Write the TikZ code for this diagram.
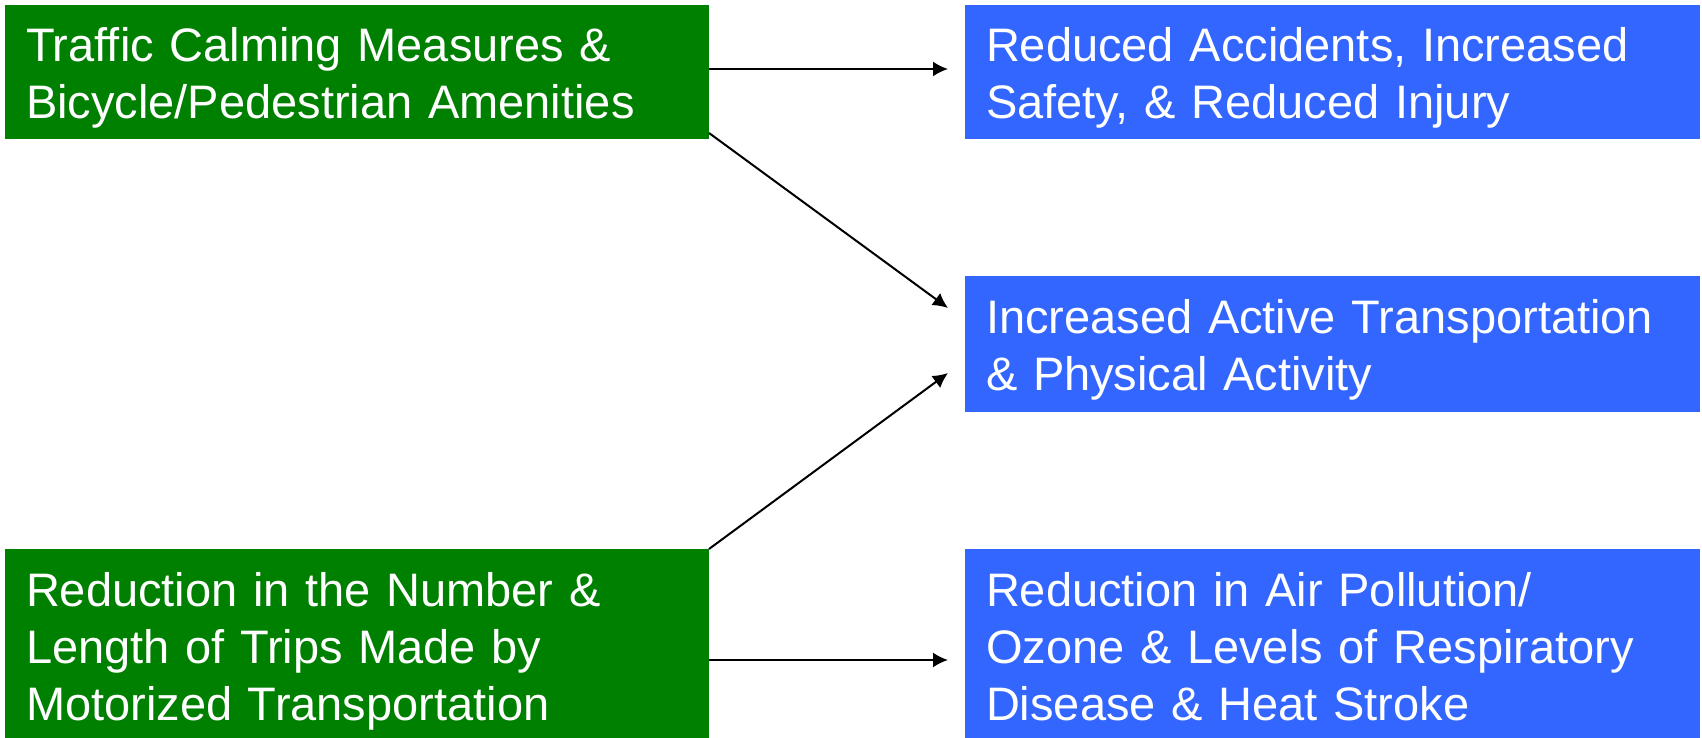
\documentclass[tikz,border=0pt]{standalone}
\usepackage{fontspec}
\setmainfont{Liberation Sans}
\usepackage{tikz}
\usetikzlibrary{positioning, arrows.meta}
\definecolor{causegreen}{RGB}{0,128,0}
\definecolor{effectblue}{RGB}{51,102,255}
\tikzset{box/.style = {text=white, anchor=north west, align=left, outer sep=0pt, inner xsep=21pt, inner ysep=0pt, text height=57pt, font=\fontsize{47}{57}\selectfont}}
\tikzset{cause/.style = {box, fill=causegreen, text width=662pt}}
\tikzset{effect/.style = {box, fill=effectblue, text width=693pt}}

\begin{document}
\begin{tikzpicture}[x=1pt, y=-1pt, >={Latex[length=15pt, width=15pt]}, line width=2pt]
  \useasboundingbox (0,0) rectangle (1702,738);
  \node [cause, text depth=77pt] (calming) at (5,5) {Traffic Calming Measures \&\\Bicycle/Pedestrian Amenities};
  \node [effect, text depth=77pt, right=256pt of calming.north east, anchor=north west] (safety) {Reduced Accidents, Increased\\Safety, \& Reduced Injury};
  \node [effect, text depth=79pt, below=137pt of safety.south west, anchor=north west] (active) {Increased Active Transportation\\\& Physical Activity};
  \node [cause, text depth=132pt] (trips) at (5,549) {Reduction in the Number \&\\Length of Trips Made by\\Motorized Transportation};
  \node [effect, text depth=132pt, right=256pt of trips.north east, anchor=north west] (air) {Reduction in Air Pollution/\\Ozone \& Levels of Respiratory\\Disease \& Heat Stroke};
  \draw [->] ([yshift=3pt]calming.east) -- ([xshift=-17pt, yshift=3pt]safety.west);
  \draw [->] ([yshift=6pt]calming.south east) -- ([xshift=-17pt, yshift=36pt]active.west);
  \draw [->] (trips.north east) -- ([xshift=-17pt, yshift=-29pt]active.west);
  \draw [->] ([yshift=-16.5pt]trips.east) -- ([xshift=-17pt, yshift=-16.5pt]air.west);
\end{tikzpicture}
\end{document}
